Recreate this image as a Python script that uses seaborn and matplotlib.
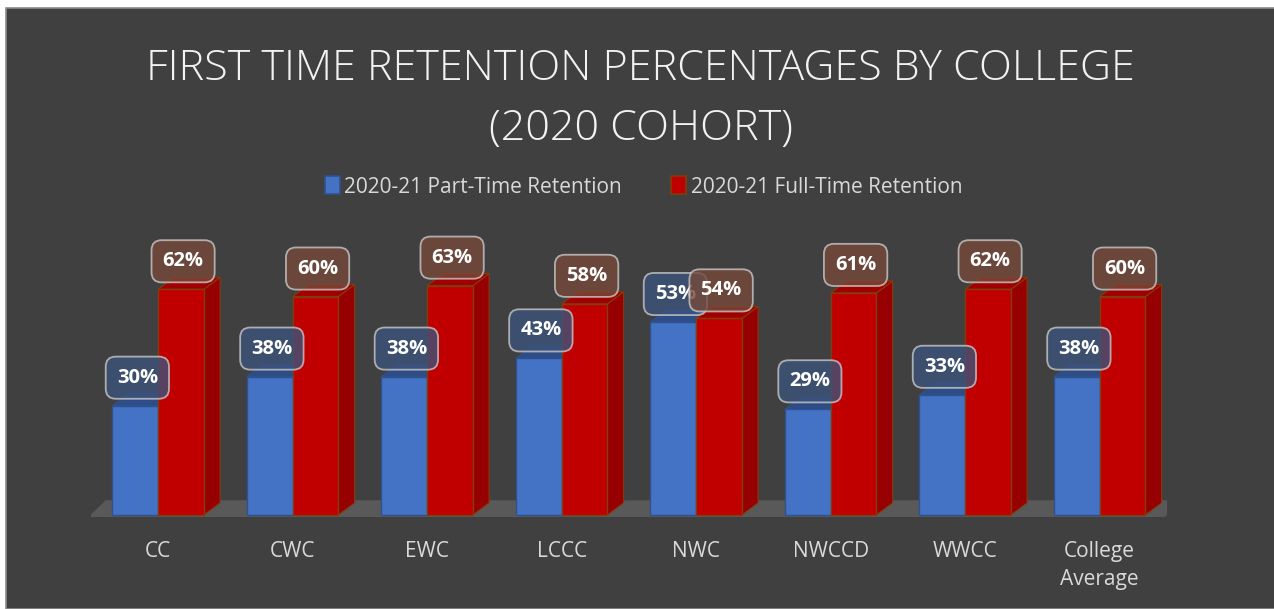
import matplotlib
matplotlib.use('Agg')
import matplotlib.pyplot as plt
from matplotlib.patches import Polygon, Patch, Rectangle
import seaborn as sns
import pandas as pd

# ── DATA ──────────────────────────────────────────────────────────────────────
colleges  = ['CC', 'CWC', 'EWC', 'LCCC', 'NWC', 'NWCCD', 'WWCC', 'College\nAverage']
part_time = [30, 38, 38, 43, 53, 29, 33, 38]
full_time = [62, 60, 63, 58, 54, 61, 62, 60]
series    = ['2020-21 Part-Time Retention', '2020-21 Full-Time Retention']
title     = 'FIRST TIME RETENTION PERCENTAGES BY COLLEGE\n(2020 COHORT)'

df = pd.DataFrame({
    'college': colleges * 2,
    'value':   part_time + full_time,
    'series':  [series[0]] * len(colleges) + [series[1]] * len(colleges),
})

# ── STYLE ─────────────────────────────────────────────────────────────────────
bg        = '#404040'
txt_col   = '#D9D9D9'
blue      = '#4472C4'
red       = '#C00000'
blue_edge = '#2F528F'
red_edge  = '#843C0C'
faces = {  # (top, side, label fill)
    0: ('#2E4C85', '#2A4680', '#3D537A'),
    1: ('#A00000', '#960000', '#76493A'),
}

sns.set_theme(style='white')
plt.rcParams['font.family'] = ['Open Sans', 'DejaVu Sans']

fig = plt.figure(figsize=(12.74, 6.09), dpi=100)
fig.patch.set_facecolor('white')
fig.patches.append(Rectangle((6 / 1274, 0), 1.0, 601 / 609, transform=fig.transFigure,
                             facecolor=bg, edgecolor='#8C8C8C', linewidth=1.2, zorder=-5))

ax = fig.add_axes([0.0714, 0.151, 0.8446, 0.601])
ax.set_facecolor('none')

sns.barplot(data=df, x='college', y='value', hue='series', hue_order=series,
            palette=[blue, red], width=0.68, ax=ax, legend=False,
            saturation=1, errorbar=None)

ax.set_xlim(-0.5, 7.5)
ax.set_ylim(-0.6, 100)

# depth of the fake 3D (data units)
dx, dy = 0.12, 3.3

# floor
fx0, fx1 = ax.get_xlim()
ax.add_patch(Polygon([(fx0 - 0.02, -0.6), (fx1 - 0.02, -0.6),
                      (fx1 + 0.15, 4.0), (fx0 + 0.11, 4.0)],
                     closed=True, facecolor='#595959', edgecolor='none', zorder=0.5))

for si, cont in enumerate(ax.containers):
    top_c, side_c, lab_c = faces[si]
    edge = blue_edge if si == 0 else red_edge
    base_z = 2 if si == 0 else 4
    for bar in cont:
        x, w, h = bar.get_x(), bar.get_width(), bar.get_height()
        bar.set_edgecolor(edge)
        bar.set_linewidth(1.0)
        bar.set_zorder(base_z)
        # side face
        ax.add_patch(Polygon([(x + w, 0), (x + w + dx, dy), (x + w + dx, h + dy), (x + w, h)],
                             closed=True, facecolor=side_c, edgecolor=edge,
                             linewidth=0.8, zorder=base_z - 0.1))
        # top face
        ax.add_patch(Polygon([(x, h), (x + dx, h + dy), (x + w + dx, h + dy), (x + w, h)],
                             closed=True, facecolor=top_c, edgecolor=edge,
                             linewidth=0.8, zorder=base_z - 0.1))
        # value label
        ax.text(x + w / 2 + 0.015, h + 7.7, f'{h:.0f}%', ha='center', va='center',
                fontsize=14.5, fontweight='bold', color='white', zorder=6 + si,
                bbox=dict(boxstyle='round,pad=0.55,rounding_size=0.5', facecolor=lab_c,
                          edgecolor='#C8C8C8', linewidth=1.3, alpha=0.8))

ax.set_xlabel('')
ax.set_ylabel('')
ax.set_yticks([])
ax.tick_params(axis='x', length=0, pad=17, labelsize=15, labelcolor=txt_col)
for lab in ax.get_xticklabels():
    lab.set_linespacing(1.45)
for s in ax.spines.values():
    s.set_visible(False)

fig.text(0.503, 0.838, title, ha='center', va='center', fontsize=31,
         color='#F2F2F2', linespacing=1.55, fontweight='light')

handles = [Patch(facecolor=blue, edgecolor=blue_edge, linewidth=1.2),
           Patch(facecolor=red, edgecolor=red_edge, linewidth=1.2)]
fig.legend(handles, series, loc='center', bbox_to_anchor=(0.505, 0.693), ncol=2,
           frameon=False, fontsize=15, labelcolor=txt_col, handlelength=0.72,
           handleheight=0.95, handletextpad=0.2, columnspacing=2.4)

plt.savefig('out.png', dpi=100, facecolor=fig.get_facecolor())
